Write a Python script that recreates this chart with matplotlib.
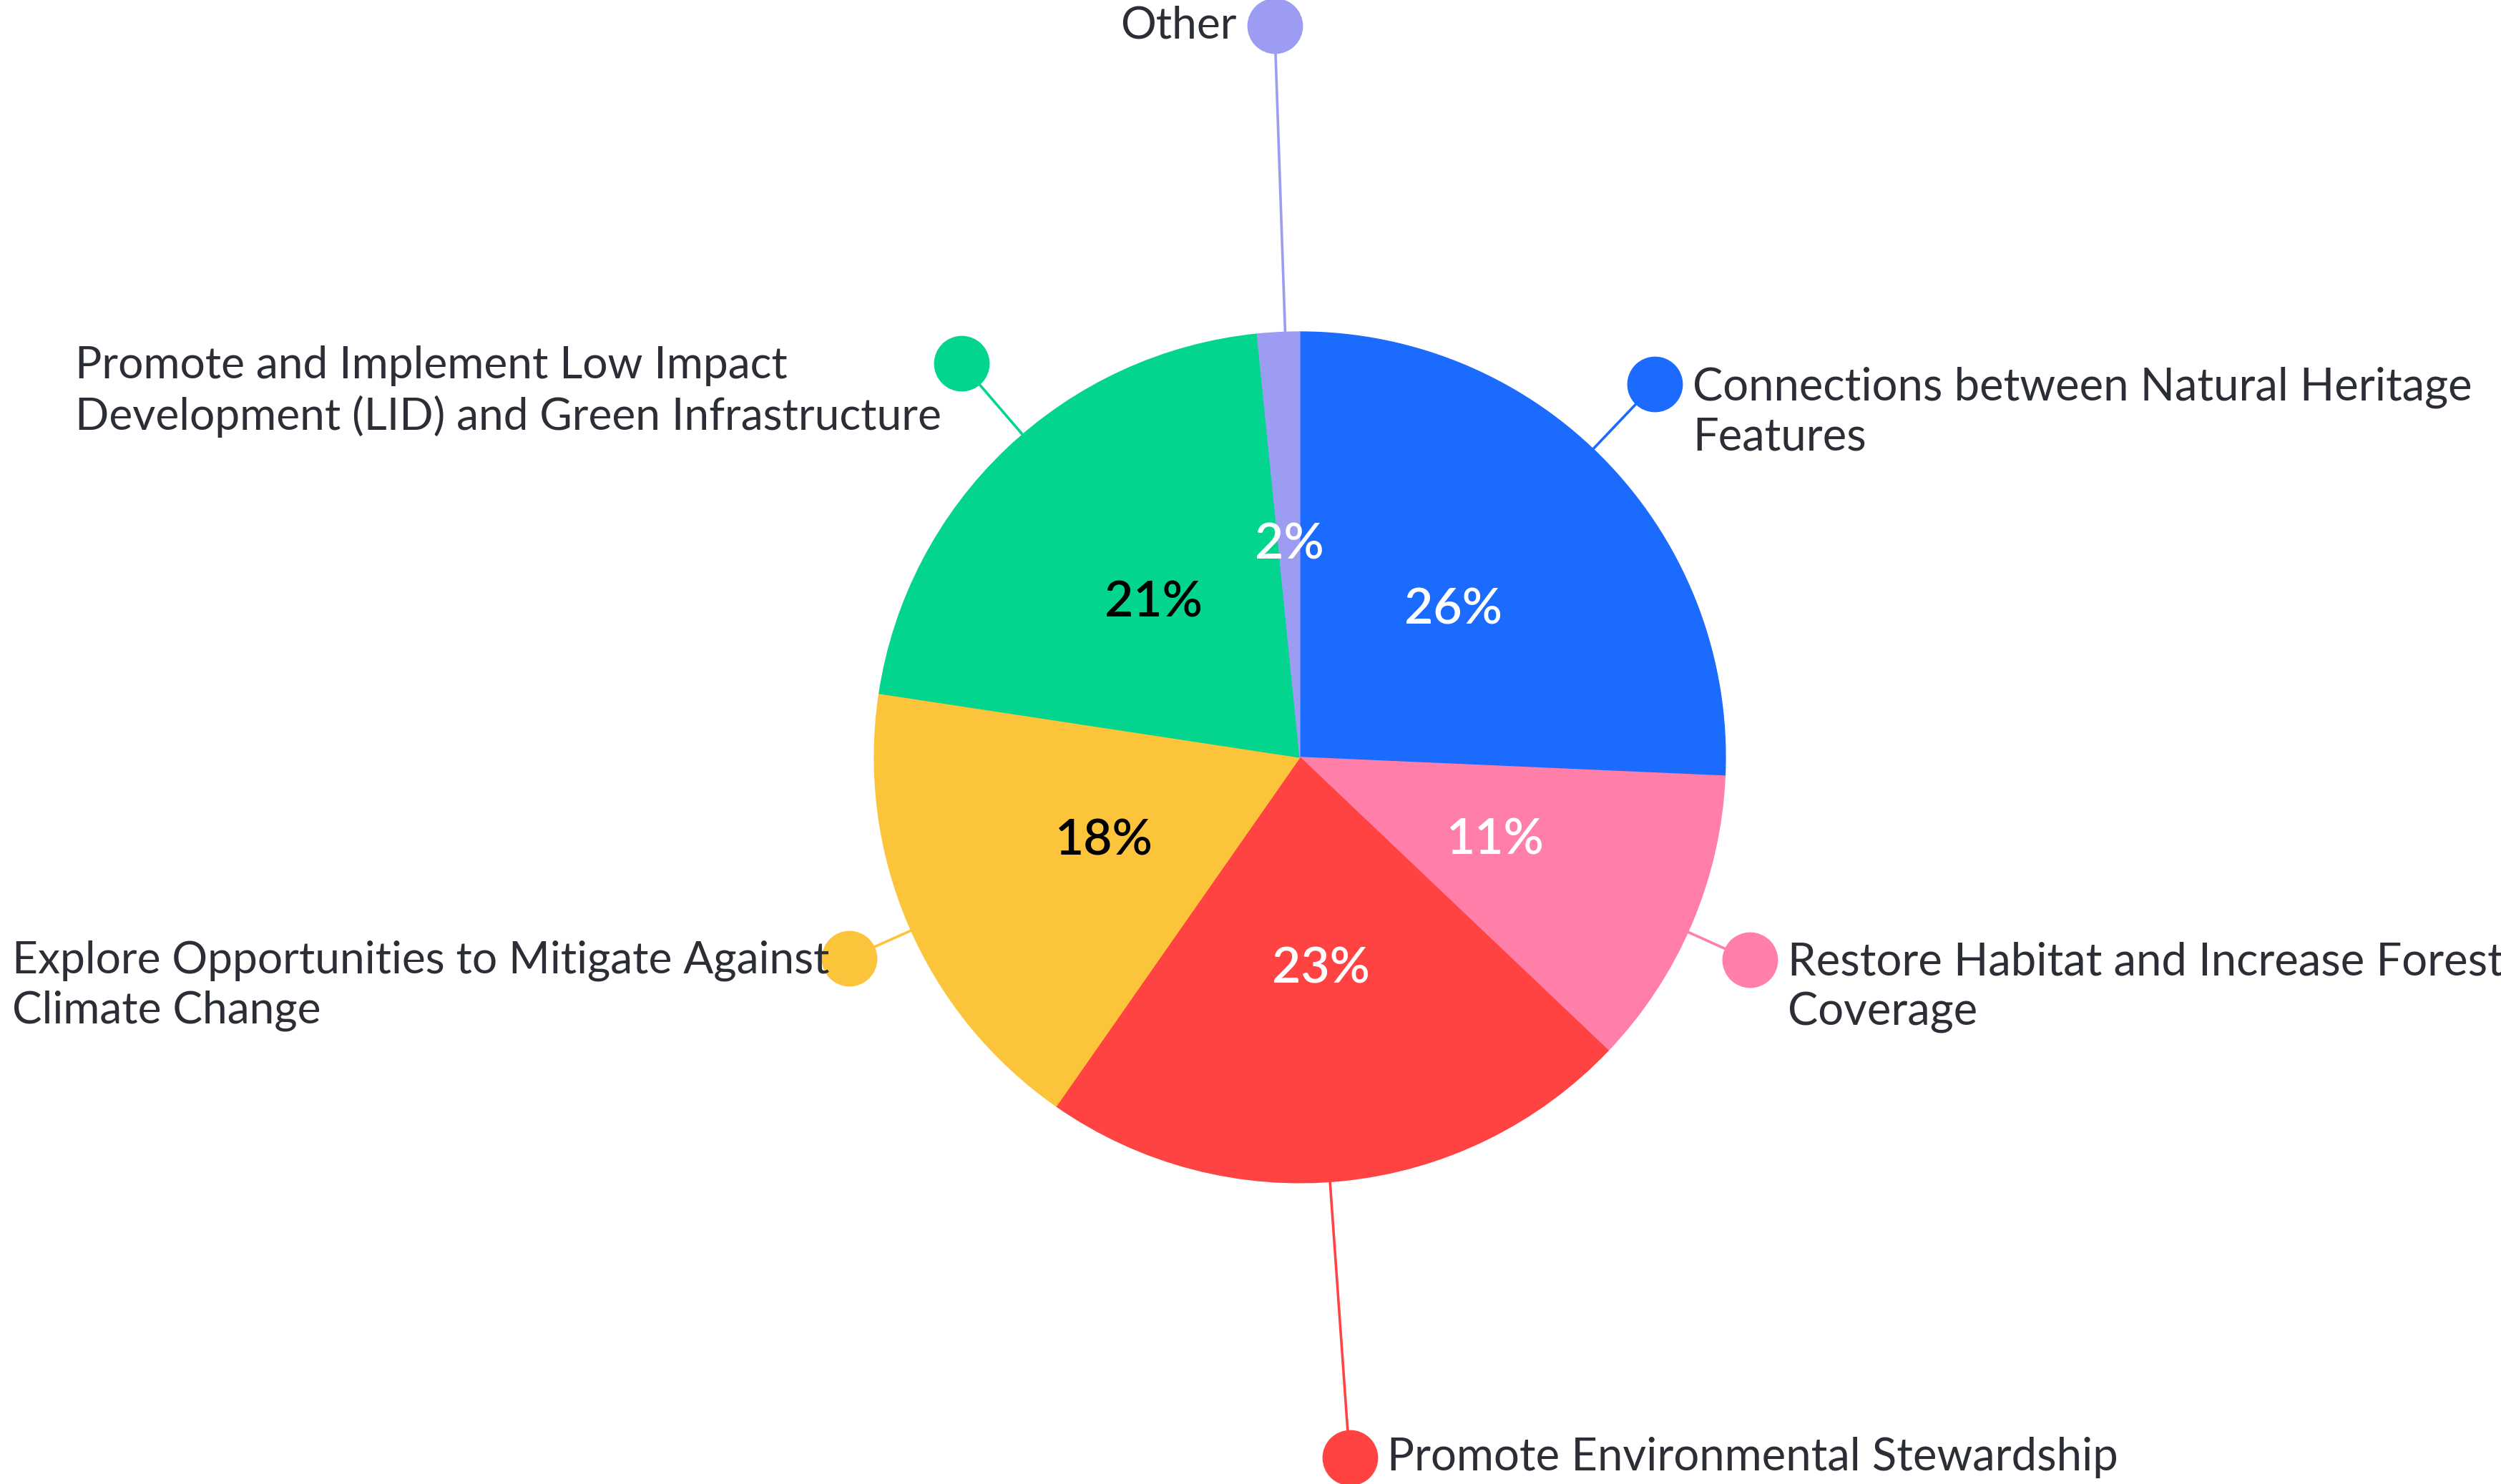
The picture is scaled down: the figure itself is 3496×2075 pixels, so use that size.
import numpy as np
import matplotlib
matplotlib.use("Agg")
import matplotlib.pyplot as plt

# slice data, clockwise from 12 o'clock
categories = [
    "Connections between Natural Heritage\nFeatures",
    "Restore Habitat and Increase Forest\nCoverage",
    "Promote Environmental Stewardship",
    "Explore Opportunities to Mitigate Against\nClimate Change",
    "Promote and Implement Low Impact\nDevelopment (LID) and Green Infrastructure",
    "Other",
]
shares = [25.7, 11.4, 22.6, 17.7, 21.0, 1.6]
colors = ["#1b6bff", "#ff7fa9", "#ff4242", "#fcc43a", "#03d58f", "#9d9cf3"]
pct_colors = ["white", "white", "white", "black", "black", "white"]

# leader layout: dot distance (in radii), angle nudge (deg), label side, text offset (pt)
dot_dist = [1.21, 1.16, 1.65, 1.16, 1.22, 1.72]
angle_nudge = [2.7, -1.2, -1.7, 0.8, -2.9, -0.9]
label_side = ["right", "right", "right", "left", "left", "left"]
label_pad = [19, 19, 19, 10, 10, 19]

plt.rcParams["font.family"] = ["Lato", "DejaVu Sans"]
text_color = "#2b2e34"

fig = plt.figure(figsize=(17.48, 10.375), dpi=200)
ax = fig.add_axes([0, 0, 1, 1])

wedges, texts, autotexts = ax.pie(
    shares, colors=colors, startangle=90, counterclock=False,
    autopct="%.0f%%", pctdistance=0.5, radius=1.0,
    wedgeprops=dict(linewidth=0.5, antialiased=True),
    textprops=dict(fontsize=25, fontweight="semibold"),
)
for w, c in zip(wedges, colors):
    w.set_edgecolor(c)
for t, c in zip(autotexts, pct_colors):
    t.set_color(c)

for w, lab, d, nud, side, pad, c in zip(wedges, categories, dot_dist, angle_nudge,
                                         label_side, label_pad, colors):
    ang = np.deg2rad((w.theta1 + w.theta2) / 2 + nud)
    x0, y0 = np.cos(ang), np.sin(ang)
    xd, yd = d * x0, d * y0
    ax.plot([x0, xd], [y0, yd], color=c, lw=1.3, zorder=1)
    ax.plot(xd, yd, "o", ms=28, color=c, mec="none", zorder=3)
    nlines = lab.count("\n") + 1
    dy = 14 * (nlines - 1)
    if side == "right":
        ax.annotate(lab, (xd, yd), xytext=(pad, -dy), textcoords="offset points",
                    ha="left", va="center", multialignment="left",
                    fontsize=22.8, color=text_color, linespacing=1.25)
    else:
        ax.annotate(lab, (xd, yd), xytext=(-pad, -dy), textcoords="offset points",
                    ha="right", va="center", multialignment="left",
                    fontsize=22.4, color=text_color, linespacing=1.27)

ax.set_xlim(-3.054, 2.822)
ax.set_ylim(-1.708, 1.780)
ax.set_aspect("equal")
ax.axis("off")

fig.savefig("out.png", dpi=200, facecolor="white")
